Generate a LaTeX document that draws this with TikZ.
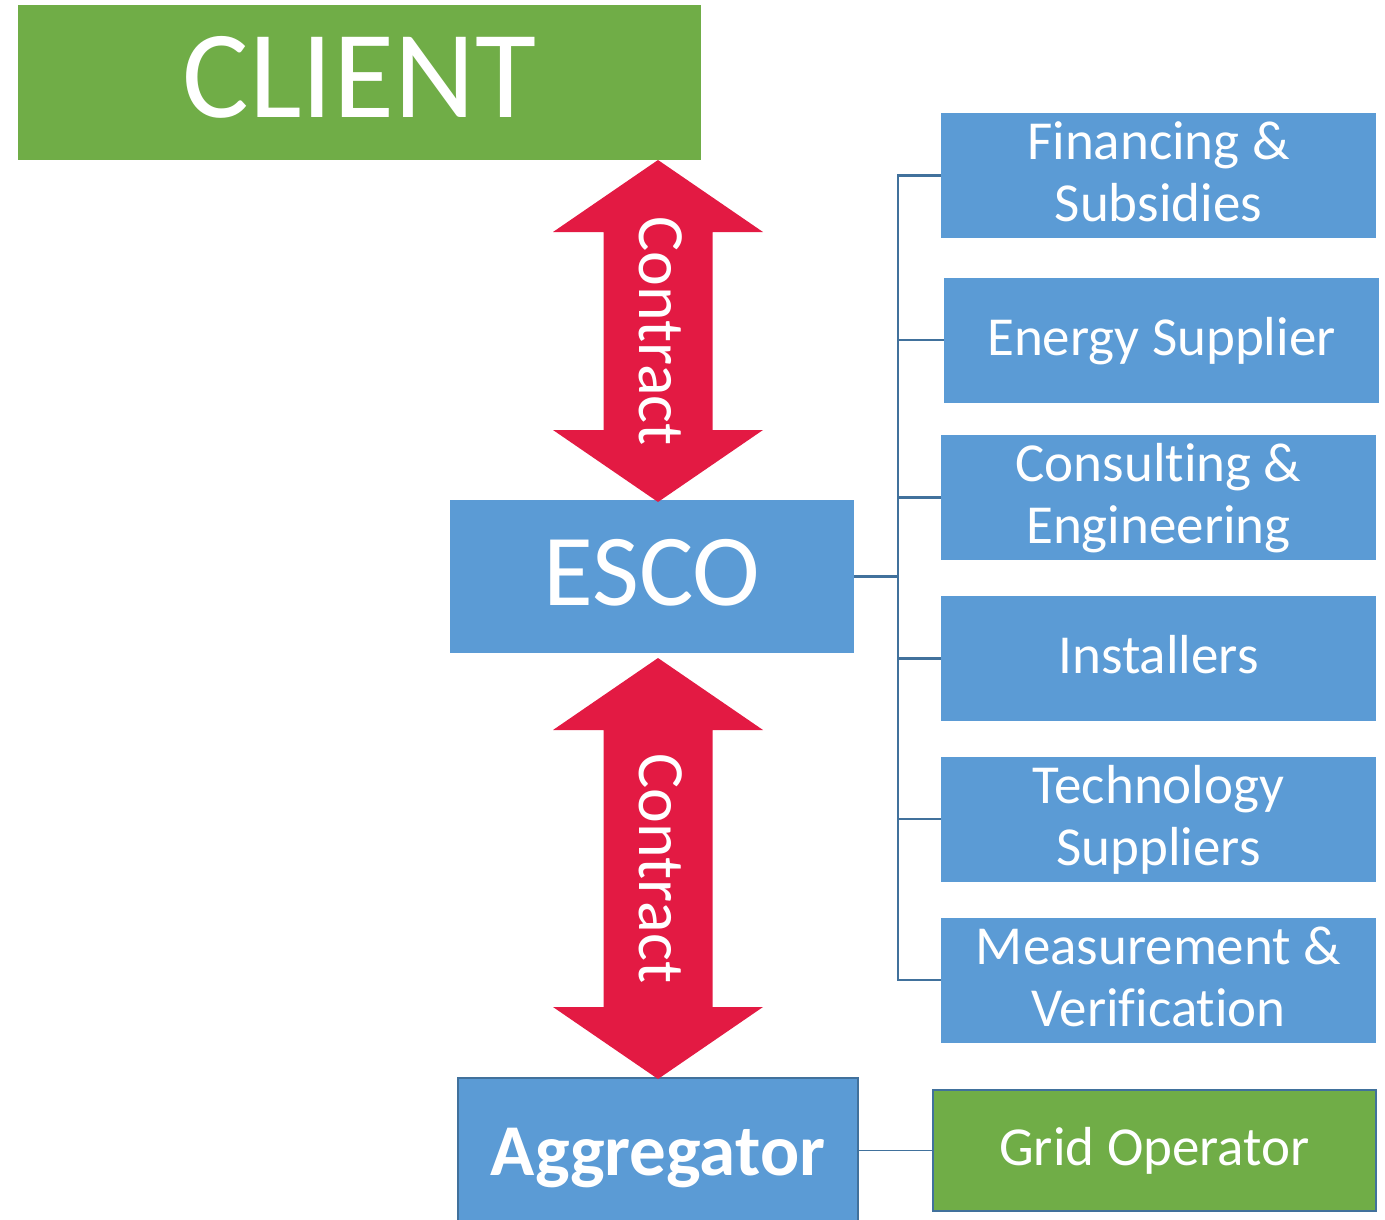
\documentclass[tikz,border=0pt]{standalone}
\usepackage{fontspec}
\setmainfont{Carlito}[Ligatures=NoCommon]
\usetikzlibrary{calc}
\definecolor{leafgreen}{HTML}{70AD47}
\definecolor{skyblue}{HTML}{5B9BD5}
\definecolor{edgeblue}{HTML}{41719C}
\definecolor{contractred}{HTML}{E31A43}
% strut that centres a line the way the slide text boxes do
\newcommand\lstrut{\rule[-0.22em]{0pt}{1em}}
% block double arrow between two tip points (head half-width 105, shaft half-width 54.5, head length 72)
\newcommand\contractarrow[2]{%
  \fill[contractred] let \p1=(#1), \p2=(#2) in
    (\x1,\y1) -- (\x1+105pt,\y1-72pt) -- (\x1+54.5pt,\y1-72pt)
    -- (\x1+54.5pt,\y2+72pt) -- (\x1+105pt,\y2+72pt) -- (\x1,\y2)
    -- (\x1-105pt,\y2+72pt) -- (\x1-54.5pt,\y2+72pt)
    -- (\x1-54.5pt,\y1-72pt) -- (\x1-105pt,\y1-72pt) -- cycle;}
\begin{document}
\begin{tikzpicture}[x=1pt,y=-1pt,
  box/.style={inner sep=0pt, outer sep=0pt, text=white, align=center},
  bluebox/.style={box, fill=skyblue},
  greenbox/.style={box, fill=leafgreen},
  framed/.style={draw=edgeblue, line width=2},
  partner/.style={bluebox, minimum width=435, minimum height=125,
    font=\fontsize{55}{62}\selectfont},
  contractlabel/.style={inner sep=0pt, text=white, rotate=-90,
    font=\fontsize{66}{80}\selectfont},
  bracket/.style={draw=edgeblue, line width=2.5}]
\useasboundingbox (0,0) rectangle (1385,1219);

% main chain
\node[greenbox, minimum width=683, minimum height=155,
  font=\fontsize{125}{150}\selectfont] (client) at (359.5,82.5) {\lstrut CLIENT};
\node[bluebox, minimum width=404, minimum height=153,
  font=\fontsize{102}{122}\selectfont] (esco) at (652,576.5) {\lstrut ESCO};
\node[bluebox, framed, minimum width=400, minimum height=154,
  font=\fontsize{73}{88}\selectfont\bfseries] (agg) at (658,1155) {\lstrut Aggregator};
\node[greenbox, framed, minimum width=443, minimum height=121,
  font=\fontsize{55}{66}\selectfont] (grid) at (1154.5,1150.5) {\raisebox{-3pt}{\lstrut Grid Operator}};

% partners of the ESCO
\node[partner] (fin)  at (1158.5,175.5) {\lstrut Financing \&\\\lstrut Subsidies};
\node[partner] (es)   at (1161.5,340)   {\lstrut Energy Supplier};
\node[partner] (ce)   at (1158.5,497.5) {\lstrut Consulting \&\\\lstrut Engineering};
\node[partner] (inst) at (1158.5,658.5) {\lstrut Installers};
\node[partner] (tech) at (1158.5,819)   {\lstrut Technology\\\lstrut Suppliers};
\node[partner] (mv)   at (1158.5,980)   {\lstrut Measurement \&\\\lstrut Verification};

% contract arrows
\coordinate (ua-top) at (agg.north |- client.south);
\coordinate (ua-bot) at ($(agg.north |- esco.north)+(0,2)$);
\coordinate (la-top) at ($(agg.north |- esco.south)+(0,5)$);
\coordinate (la-bot) at ($(agg.north)+(0,1)$);
\contractarrow{ua-top}{ua-bot}
\contractarrow{la-top}{la-bot}
\node[contractlabel] (c-upper) at ($(ua-top)!0.5!(ua-bot)$) {\lstrut Contract};
\node[contractlabel] (c-lower) at ($(la-top)!0.5!(la-bot)$) {\lstrut Contract};

% bracket from the ESCO to its partners
\coordinate (bus) at (898,0);
\draw[bracket] (fin.west) -- (fin.west -| bus) -- (mv.west -| bus) -- (mv.west);
\foreach \n in {es,ce,inst,tech} \draw[bracket] (\n.west -| bus) -- (\n.west);
\draw[bracket] (esco.east) -- (esco.east -| bus);

% aggregator to grid operator
\draw[edgeblue, line width=1] (agg.east |- grid.west) -- (grid.west);
\end{tikzpicture}
\end{document}
